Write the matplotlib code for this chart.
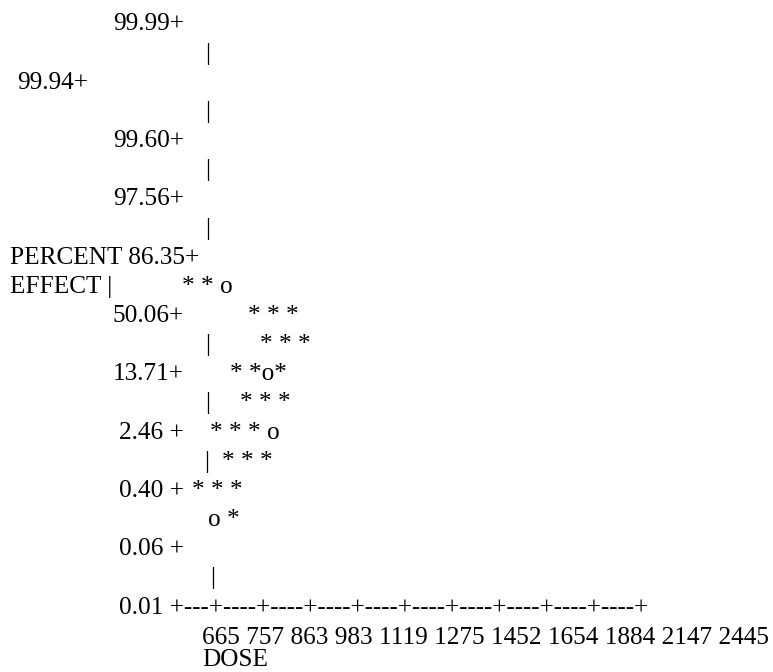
import matplotlib
matplotlib.use("Agg")
import matplotlib.pyplot as plt

# Percent-effect (probit scale) tick values, top to bottom
percent_ticks = ["99.99", "99.94", "99.60", "97.56", "86.35", "50.06",
                 "13.71", "2.46", "0.40", "0.06", "0.01"]
# Dose tick values along the horizontal axis
dose_ticks = [665, 757, 863, 983, 1119, 1275, 1452, 1654, 1884, 2147, 2445]
# Plotted characters per printer row: '*' fitted probit line, 'o' observed point
curve_rows = {
    9: "* * o",
    10: "* * *",
    11: "* * *",
    12: "* *o*",
    13: "* * *",
    14: "* * * o",
    15: "* * *",
    16: "* * *",
    17: "o *",
}
y_axis_title = ("PERCENT", "EFFECT")
x_axis_title = "DOSE"

# ---- layout (pixels) ----
W, H = 773, 672
FONT = dict(family="Liberation Serif", size=18.2, color="black")
curve_x = {9: 182, 10: 248, 11: 260, 12: 230, 13: 240, 14: 210, 15: 222, 16: 192, 17: 208}
bar_x = {1: 205, 3: 205, 5: 205, 7: 205, 11: 205, 13: 205, 15: 204, 19: 210}
tick_x = {0: 113, 2: 17, 4: 113, 6: 113, 10: 113, 12: 113, 14: 119, 16: 119, 18: 119, 20: 119}


def baseline(row):
    if row <= 20:
        return 30.5 + 29.15 * row
    return {21: 644.5, 22: 666.5}[row]


fig = plt.figure(figsize=(W / 100, H / 100), dpi=100)
ax = fig.add_axes([0, 0, 1, 1])
ax.set_xlim(0, W)
ax.set_ylim(H, 0)
ax.axis("off")


def put(x, row, s):
    ax.text(x, baseline(row), s, ha="left", va="baseline", **FONT)


def tick_text(v):
    return f"{v}+" if float(v) >= 10 else f"{v} +"


# vertical axis labels
for k, v in enumerate(percent_ticks):
    row = 2 * k
    if row == 8:
        put(10, row, f"{y_axis_title[0]} {tick_text(v)}")
    elif row == 20:
        n = len(dose_ticks)
        axis_line = "+" + "---+" + "----+" * (n - 2)
        put(tick_x[row], row, f"{tick_text(v)[:-1]}{axis_line}")
    else:
        put(tick_x[row], row, tick_text(v))

# vertical axis bars between ticks
for row, x in bar_x.items():
    put(x, row, "|")
put(10, 9, f"{y_axis_title[1]} |")

# plotted symbols
for row, s in curve_rows.items():
    put(curve_x[row], row, s)

# horizontal axis labels
put(202, 21, " ".join(str(d) for d in dose_ticks))
put(202, 22, x_axis_title)

fig.savefig("out.png", dpi=100, facecolor="white")
